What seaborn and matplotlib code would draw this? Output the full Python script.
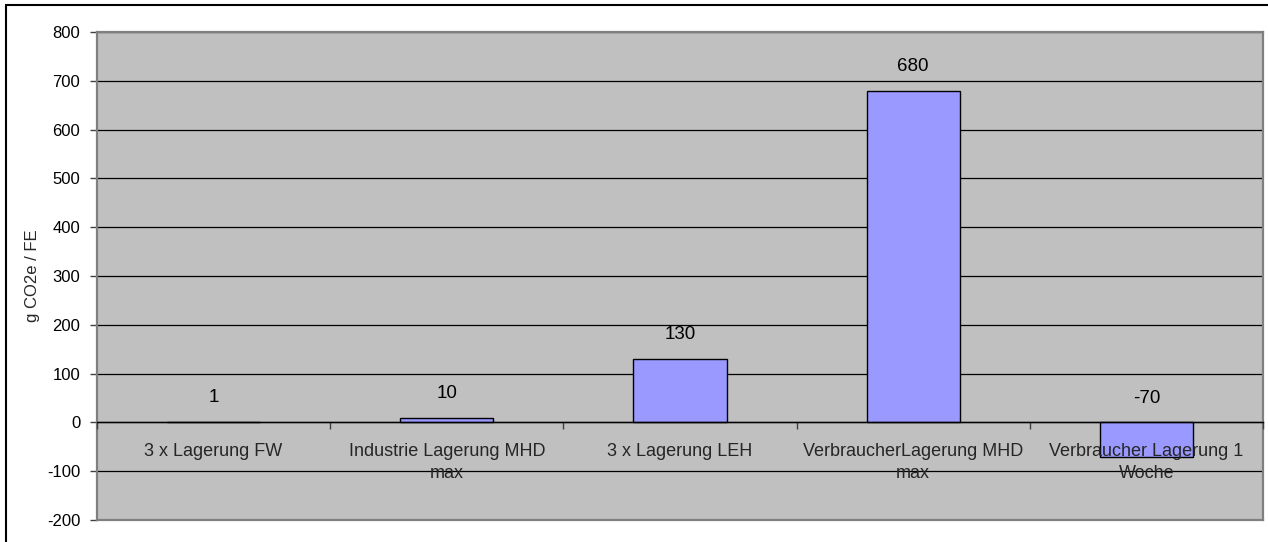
import matplotlib
matplotlib.use("Agg")
import matplotlib.pyplot as plt
from matplotlib.lines import Line2D
import seaborn as sns

# Storage scenarios and their CO2e contribution per functional unit
categories = [
    "3 x Lagerung FW",
    "Industrie Lagerung MHD\nmax",
    "3 x Lagerung LEH",
    "VerbraucherLagerung MHD\nmax",
    "Verbraucher Lagerung 1\nWoche",
]
values = [1, 10, 130, 680, -70]
y_ticks = list(range(-200, 801, 100))
y_label = "g CO2e / FE"

sns.set_style("white")
plt.rcParams["font.family"] = ["Liberation Sans", "DejaVu Sans"]
plt.rcParams["axes.unicode_minus"] = False

W, H = 1268, 542
fig = plt.figure(figsize=(W / 100, H / 100), dpi=100)
fig.patch.set_facecolor("white")

left, right, top, bottom = 97, 1263, 32, 520
ax = fig.add_axes([left / W, 1 - bottom / H, (right - left) / W, (bottom - top) / H])
ax.set_facecolor("#C0C0C0")

sns.barplot(x=categories, y=values, color="#9999FF", saturation=1,
            edgecolor="black", linewidth=1, width=0.4, errorbar=None,
            ax=ax, zorder=3)

ax.set_xlim(-0.5, len(categories) - 0.5)
ax.set_ylim(y_ticks[0], y_ticks[-1])
ax.set_yticks(y_ticks)
ax.set_xlabel("")
ax.set_ylabel("")

# black horizontal gridlines
ax.set_axisbelow(True)
ax.yaxis.grid(True, color="black", linewidth=0.9)
ax.xaxis.grid(False)

for s in ax.spines.values():
    s.set_visible(True)
    s.set_color("#808080")
    s.set_linewidth(1.6)

ax.tick_params(axis="x", bottom=False, labelbottom=False)
ax.tick_params(axis="y", left=True, length=5, width=1, color="#404040",
               pad=7, labelsize=12, labelcolor="black")

# category axis crossing at zero
y0, y1 = ax.get_ylim()
cross = (0 - y0) / (y1 - y0)
sec = ax.secondary_xaxis(cross)
sec.set_xticks(range(len(categories)), labels=categories)
sec.set_xticks([i - 0.5 for i in range(len(categories) + 1)], minor=True)
sec.tick_params(which="major", length=0, pad=15, labelsize=13)
sec.tick_params(which="minor", length=5, width=1, color="#404040", direction="out")
for lbl in sec.get_xticklabels():
    lbl.set_linespacing(1.4)
for name, s in sec.spines.items():
    if name == "bottom":
        s.set_color("black")
        s.set_linewidth(1.0)
    else:
        s.set_visible(False)
sec.set_zorder(5)

# value labels above each bar (or above zero for negatives)
for i, v in enumerate(values):
    ax.annotate(f"{v}", xy=(i, max(v, 0)), xytext=(0, 17.5), textcoords="offset points",
                ha="center", va="center", fontsize=13.5, color="black", zorder=6)

fig.text(33 / W, 1 - ((top + bottom) / 2) / H, y_label, rotation=90,
         ha="center", va="center", fontsize=12)

# outer chart frame
fig.add_artist(Line2D([5.5 / W, 5.5 / W], [0, 1 - 4.5 / H], transform=fig.transFigure,
                      color="black", linewidth=1.5))
fig.add_artist(Line2D([5.5 / W, 1], [1 - 4.5 / H, 1 - 4.5 / H], transform=fig.transFigure,
                      color="black", linewidth=1.5))

fig.savefig("out.png", dpi=100, facecolor="white")
